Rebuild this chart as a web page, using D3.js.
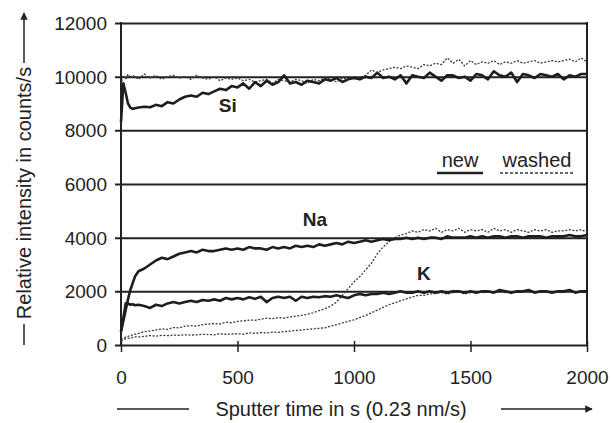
<!DOCTYPE html>
<html>
<head>
<meta charset="utf-8">
<script src="https://cdn.jsdelivr.net/npm/d3@7"></script>
<style>
	body { margin: 0; background: #fff; }
	svg { display: block; font-family: "Liberation Sans", Arial, sans-serif; }
</style>
</head>
<body>
<svg id="chart" width="611" height="423"></svg>
<script>
// sputter time (s), denser at the start
var times = [0, 10, 20, 30, 40, 50, 60, 75,
	100, 125, 150, 175, 200, 225, 250, 275,
	300, 325, 350, 375, 400, 425, 450, 475,
	500, 525, 550, 575, 600, 625, 650, 675,
	700, 725, 750, 775, 800, 825, 850, 875,
	900, 925, 950, 975, 1000, 1025, 1050, 1075,
	1100, 1125, 1150, 1175, 1200, 1225, 1250, 1275,
	1300, 1325, 1350, 1375, 1400, 1425, 1450, 1475,
	1500, 1525, 1550, 1575, 1600, 1625, 1650, 1675,
	1700, 1725, 1750, 1775, 1800, 1825, 1850, 1875,
	1900, 1925, 1950, 1975, 2000];

var siNew = [8300, 9750, 9400, 9000, 8850, 8800, 8820, 8850,
	8880, 8860, 8950, 8900, 9050, 9000, 9150, 9250,
	9300, 9250, 9400, 9350, 9450, 9550, 9500, 9650,
	9600, 9750, 9550, 9800, 9650, 9850, 9700, 9800,
	10050, 9750, 9800, 9700, 9850, 9800, 9750, 9900,
	9850, 9950, 9800, 9900, 9950, 9900, 10000, 9950,
	10150, 9950, 10000, 9900, 10050, 9750, 10050, 10000,
	9950, 10150, 10000, 9850, 10050, 10050, 9950, 10000,
	9850, 10100, 10050, 9900, 10200, 10050, 10000, 10150,
	9800, 10100, 10050, 9950, 10100, 10050, 10000, 10100,
	9900, 10050, 10000, 10100, 10100];
var siWashed = [9700, 10050, 9900, 10100, 9950, 10050, 10000, 9900,
	10100, 9950, 10050, 9900, 10000, 10050, 9950, 10000,
	9900, 10050, 9950, 9900, 10000, 9850, 9950, 9900,
	9950, 9850, 9900, 9800, 9850, 9900, 9750, 9900,
	9850, 9800, 9900, 9850, 9750, 9900, 9850, 9950,
	9900, 9800, 9950, 9900, 10000, 9950, 10050, 10250,
	10150, 10250, 10300, 10350, 10300, 10400, 10350, 10300,
	10450, 10400, 10500, 10450, 10700, 10500, 10650, 10400,
	10600, 10450, 10550, 10500, 10600, 10450, 10550, 10500,
	10600, 10500, 10550, 10600, 10500, 10550, 10600, 10550,
	10600, 10650, 10550, 10700, 10550];
var naNew = [500, 900, 1300, 1700, 2050, 2300, 2550, 2750,
	2850, 3000, 3150, 3250, 3200, 3300, 3400, 3450,
	3500, 3450, 3550, 3500, 3500, 3550, 3600, 3550,
	3600, 3550, 3650, 3600, 3600, 3550, 3650, 3600,
	3650, 3600, 3700, 3650, 3700, 3650, 3750, 3700,
	3750, 3800, 3750, 3850, 3800, 3850, 3900, 3850,
	3900, 3950, 3900, 3950, 3950, 4000, 3950, 4000,
	3950, 4000, 4000, 3950, 4050, 4000, 4000, 4000,
	4050, 4000, 4050, 4000, 4050, 4050, 4000, 4050,
	4050, 4000, 4050, 4050, 4050, 4000, 4050, 4050,
	4050, 4100, 4050, 4050, 4100];
var naWashed = [200, 250, 300, 320, 350, 380, 400, 430,
	500, 520, 560, 600, 580, 650, 640, 700,
	720, 700, 760, 780, 800, 780, 850, 830,
	880, 900, 930, 920, 960, 1000, 980, 1020,
	1000, 1050, 1080, 1100, 1150, 1200, 1280, 1350,
	1450, 1600, 1850, 2100, 2350, 2550, 2800, 3050,
	3400, 3650, 3850, 4000, 4100, 4150, 4250, 4200,
	4300, 4250, 4350, 4200, 4300, 4250, 4350, 4200,
	4300, 4250, 4300, 4200, 4350, 4250, 4300, 4200,
	4300, 4250, 4200, 4300, 4250, 4300, 4200, 4250,
	4250, 4300, 4250, 4300, 4200];
var kNew = [500, 1000, 1550, 1550, 1500, 1520, 1480, 1500,
	1450, 1380, 1500, 1450, 1550, 1600, 1550, 1600,
	1650, 1600, 1680, 1650, 1700, 1650, 1750, 1700,
	1750, 1700, 1780, 1720, 1800, 1600, 1750, 1800,
	1750, 1800, 1650, 1800, 1750, 1800, 1780, 1820,
	1800, 1850, 1800, 1750, 1850, 1900, 1850, 1900,
	1900, 1950, 1900, 1950, 2000, 1950, 1950, 2000,
	1950, 2000, 1950, 2000, 1950, 2000, 2000, 1950,
	2000, 1950, 2000, 2000, 1950, 2050, 2000, 1950,
	2000, 2000, 2050, 1950, 2000, 2000, 1950, 2000,
	2000, 2050, 1950, 2000, 2000];
var kWashed = [150, 200, 230, 250, 260, 280, 300, 300,
	320, 350, 330, 360, 350, 370, 360, 380,
	370, 380, 400, 390, 380, 420, 400, 410,
	420, 400, 450, 430, 460, 450, 480, 470,
	500, 520, 540, 560, 580, 600, 620, 640,
	700, 760, 820, 880, 940, 1020, 1100, 1200,
	1300, 1400, 1500, 1570, 1650, 1720, 1790, 1850,
	1850, 1900, 1920, 1950, 1900, 1950, 1980, 1900,
	1950, 2000, 1950, 1980, 1950, 2000, 1950, 1980,
	1950, 2000, 1980, 1950, 2000, 1950, 2000, 1980,
	1950, 2000, 1980, 2000, 1950];

var xTicks = [0, 500, 1000, 1500, 2000];
var yTicks = [0, 2000, 4000, 6000, 8000, 10000, 12000];
var elementLabels = [
	{name: "Si", t: 420, v: 8700},
	{name: "Na", t: 780, v: 4450},
	{name: "K", t: 1270, v: 2420}
];

var svg = d3.select("#chart");
var plotLeft = 121, plotRight = 587, plotTop = 23, plotBottom = 345;
var ink = "#222";

var x = d3.scaleLinear().domain([0, 2000]).range([plotLeft, plotRight]);
var y = d3.scaleLinear().domain([0, 12000]).range([plotBottom, plotTop]);

// y axis with horizontal gridlines
var yAxis = svg.append("g")
	.attr("transform", "translate(" + plotLeft + ",0)")
	.call(d3.axisLeft(y).tickValues(yTicks).tickSize(-(plotRight - plotLeft)).tickFormat(d3.format("d")));
yAxis.select(".domain").remove();
yAxis.selectAll(".tick line")
	.attr("x1", -6)
	.attr("stroke", ink)
	.attr("stroke-width", 2);
yAxis.selectAll(".tick text")
	.attr("x", -14)
	.attr("dy", "0.35em")
	.attr("fill", ink)
	.style("font-size", "19px");

// x axis
var xAxis = svg.append("g")
	.attr("transform", "translate(0," + plotBottom + ")")
	.call(d3.axisBottom(x).tickValues(xTicks).tickSize(7).tickFormat(d3.format("d")));
xAxis.select(".domain").remove();
xAxis.selectAll(".tick line")
	.attr("y1", -4)
	.attr("stroke", ink)
	.attr("stroke-width", 1.5);
xAxis.selectAll(".tick text")
	.attr("y", 39)
	.attr("dy", 0)
	.attr("fill", ink)
	.style("font-size", "19px");

// frame: left and right edges
svg.append("line")
	.attr("x1", plotLeft).attr("x2", plotLeft)
	.attr("y1", plotTop - 1).attr("y2", plotBottom + 1)
	.attr("stroke", ink).attr("stroke-width", 2);
svg.append("line")
	.attr("x1", plotRight).attr("x2", plotRight)
	.attr("y1", plotTop - 1).attr("y2", plotBottom + 1)
	.attr("stroke", ink).attr("stroke-width", 2);

// data lines
var line = d3.line()
	.x(function(d, i) { return x(times[i]); })
	.y(function(d) { return y(d); });

var series = [
	{values: siWashed, washed: true},
	{values: naWashed, washed: true},
	{values: kWashed, washed: true},
	{values: siNew, washed: false},
	{values: naNew, washed: false},
	{values: kNew, washed: false}
];
svg.append("g").selectAll("path")
	.data(series)
	.enter().append("path")
	.attr("d", function(d) { return line(d.values); })
	.attr("fill", "none")
	.attr("stroke", function(d) { return d.washed ? "#3a3a3a" : "#1e1e1e"; })
	.attr("stroke-width", function(d) { return d.washed ? 1.3 : 2.6; })
	.attr("stroke-dasharray", function(d) { return d.washed ? "2,1.6" : null; })
	.attr("stroke-linejoin", "round");

// element labels
svg.append("g").selectAll("text")
	.data(elementLabels)
	.enter().append("text")
	.attr("x", function(d) { return x(d.t); })
	.attr("y", function(d) { return y(d.v); })
	.attr("fill", ink)
	.style("font-size", "19px")
	.style("font-weight", "bold")
	.text(function(d) { return d.name; });

// legend
var legend = svg.append("g").attr("fill", ink).style("font-size", "20px");
legend.append("text").attr("x", 460).attr("y", 167).attr("text-anchor", "middle").text("new");
legend.append("line").attr("x1", 437).attr("x2", 483).attr("y1", 173).attr("y2", 173)
	.attr("stroke", ink).attr("stroke-width", 2.4);
legend.append("text").attr("x", 537).attr("y", 167).attr("text-anchor", "middle").text("washed");
legend.append("line").attr("x1", 500).attr("x2", 575).attr("y1", 173).attr("y2", 173)
	.attr("stroke", "#3a3a3a").attr("stroke-width", 1.3).attr("stroke-dasharray", "3,2");

// arrow head marker for axis titles
svg.append("defs").append("marker")
	.attr("id", "arrow")
	.attr("viewBox", "0 0 10 10")
	.attr("refX", 9).attr("refY", 5)
	.attr("markerWidth", 5).attr("markerHeight", 5)
	.attr("markerUnits", "strokeWidth")
	.attr("orient", "auto")
	.append("path").attr("d", "M0,0 L10,5 L0,10 z").attr("fill", ink);

// x title with lead line and arrow
svg.append("text")
	.attr("x", 341).attr("y", 416)
	.attr("text-anchor", "middle")
	.attr("fill", ink)
	.style("font-size", "20px")
	.text("Sputter time in s (0.23 nm/s)");
svg.append("line").attr("x1", 117).attr("x2", 189).attr("y1", 409).attr("y2", 409)
	.attr("stroke", ink).attr("stroke-width", 1.5);
svg.append("line").attr("x1", 501).attr("x2", 592).attr("y1", 409).attr("y2", 409)
	.attr("stroke", ink).attr("stroke-width", 1.5).attr("marker-end", "url(#arrow)");

// y title with lead line and arrow
svg.append("text")
	.attr("transform", "translate(31,193) rotate(-90)")
	.attr("text-anchor", "middle")
	.attr("fill", ink)
	.style("font-size", "20px")
	.text("Relative intensity in counts/s");
svg.append("line").attr("x1", 24).attr("x2", 24).attr("y1", 345).attr("y2", 324)
	.attr("stroke", ink).attr("stroke-width", 1.5);
svg.append("line").attr("x1", 24).attr("x2", 24).attr("y1", 63).attr("y2", 13)
	.attr("stroke", ink).attr("stroke-width", 1.5).attr("marker-end", "url(#arrow)");
</script>
</body>
</html>
